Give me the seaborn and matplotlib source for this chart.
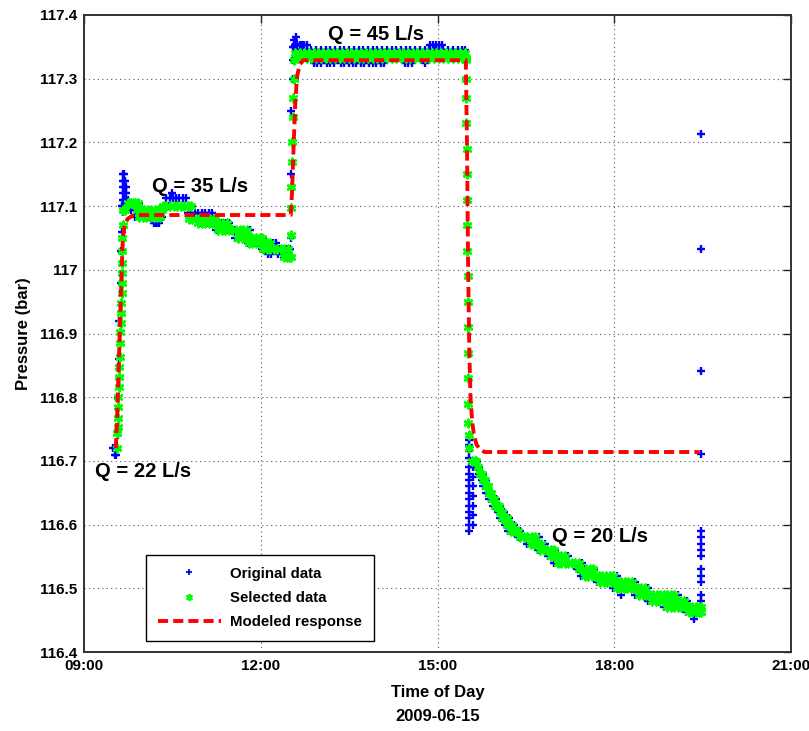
import numpy as np
import pandas as pd
import matplotlib
matplotlib.use("Agg")
import matplotlib.pyplot as plt
import seaborn as sns
from matplotlib.lines import Line2D

# ---------------- data (time in decimal hours, pressure in bar) ----------------
x_ticks = [9, 12, 15, 18, 21]
x_tick_labels = ["09:00", "12:00", "15:00", "18:00", "21:00"]
y_ticks = [116.4, 116.5, 116.6, 116.7, 116.8, 116.9, 117.0, 117.1, 117.2, 117.3, 117.4]
y_tick_labels = ["116.4", "116.5", "116.6", "116.7", "116.8", "116.9", "117", "117.1", "117.2", "117.3", "117.4"]

flow_labels = ["Q = 22 L/s", "Q = 35 L/s", "Q = 45 L/s", "Q = 20 L/s"]
flow_label_time = [9.19, 10.15, 13.14, 16.94]
flow_label_pres = [116.683, 117.131, 117.369, 116.582]

# original data: runs at constant pressure (pressure, times)
orig_rows = [
    (116.72, [9.50, 9.53, 9.56]),
    (116.71, [9.52, 9.55]),
    (117.105, [9.74, 9.79, 9.84, 9.89, 9.93]),
    (117.094, [9.80, 9.86, 9.92, 9.98, 10.04, 10.10, 10.16, 10.22, 10.28, 10.34]),
    (117.083, [9.86, 9.94, 10.02, 10.10, 10.18, 10.26, 10.32]),
    (117.073, [10.18, 10.21, 10.24, 10.27]),
    (117.113, [10.40, 10.46, 10.51, 10.56, 10.62, 10.68, 10.74]),
    (117.12, [10.50]),
    (117.10, [10.36, 10.42, 10.48, 10.54, 10.60, 10.66, 10.72, 10.78, 10.84]),
    (117.089, [10.76, 10.82, 10.88, 10.94, 11.00, 11.06, 11.12, 11.18]),
    (117.08, [10.88, 10.94, 11.00, 11.06, 11.12, 11.18, 11.24]),
    (117.073, [10.98, 11.04, 11.10, 11.16, 11.22, 11.28, 11.34, 11.40, 11.46]),
    (117.062, [11.24, 11.30, 11.36, 11.42, 11.48, 11.54, 11.60, 11.66, 11.72, 11.78, 11.82]),
    (117.05, [11.56, 11.62, 11.68, 11.74, 11.80, 11.86, 11.92, 11.98, 12.04]),
    (117.042, [11.78, 11.84, 11.90, 11.96, 12.02, 12.08, 12.14, 12.20, 12.26]),
    (117.033, [12.02, 12.08, 12.14, 12.20, 12.26, 12.32, 12.38, 12.44, 12.49]),
    (117.025, [12.12, 12.18, 12.30, 12.36, 12.42]),
    (117.02, [12.40, 12.44, 12.48]),
    (117.353, [12.58, 12.62, 12.66, 12.70, 12.74, 12.78, 14.87, 14.92, 14.97, 15.02, 15.07]),
    (117.345, [12.62, 12.70, 12.78, 12.86, 12.94, 13.02, 13.10, 13.18, 13.26, 13.34, 13.42,
               13.50, 13.58, 13.66, 13.74, 13.82, 13.90, 13.98, 14.06, 14.14, 14.22, 14.30,
               14.38, 14.46, 14.54, 14.62, 14.70, 14.78, 14.86, 14.94, 15.02, 15.10, 15.18,
               15.26, 15.34, 15.42, 15.47]),
    (117.335, [12.66, 12.74, 12.82, 12.90, 12.98, 13.06, 13.14, 13.22, 13.30, 13.38, 13.46,
               13.54, 13.62, 13.70, 13.78, 13.86, 13.94, 14.02, 14.10, 14.18, 14.26, 14.34,
               14.42, 14.50, 14.58, 14.66, 14.74, 14.82, 14.90, 14.98, 15.06, 15.14, 15.22,
               15.30, 15.38, 15.46]),
    (117.325, [12.90, 12.96, 13.02, 13.12, 13.18, 13.24, 13.36, 13.42, 13.50, 13.56, 13.62,
               13.70, 13.76, 13.84, 13.90, 13.96, 14.04, 14.10, 14.44, 14.50, 14.56, 14.78]),
    (116.70, [15.64, 15.67]),
    (116.69, [15.67, 15.70]),
    (116.68, [15.70, 15.74, 15.78]),
    (116.67, [15.75, 15.79, 15.83]),
    (116.66, [15.78, 15.82, 15.86]),
    (116.65, [15.83, 15.87, 15.91]),
    (116.64, [15.88, 15.92, 15.96, 15.99]),
    (116.63, [15.94, 15.98, 16.02, 16.06]),
    (116.62, [16.02, 16.06, 16.10, 16.13]),
    (116.61, [16.06, 16.10, 16.14, 16.18, 16.22]),
    (116.60, [16.14, 16.18, 16.22, 16.26, 16.30]),
    (116.59, [16.20, 16.25, 16.30, 16.35, 16.40]),
    (116.58, [16.36, 16.42, 16.48, 16.54, 16.60, 16.66, 16.72]),
    (116.57, [16.52, 16.58, 16.64, 16.70, 16.76, 16.82]),
    (116.56, [16.70, 16.76, 16.82, 16.88, 16.94, 17.00]),
    (116.55, [16.88, 16.94, 17.00, 17.06, 17.12, 17.18, 17.22]),
    (116.54, [16.98, 17.04, 17.10, 17.16, 17.22, 17.28, 17.34, 17.40, 17.46]),
    (116.53, [17.36, 17.42, 17.48, 17.54, 17.60, 17.66]),
    (116.52, [17.44, 17.50, 17.56, 17.62, 17.68, 17.74, 17.80, 17.86, 17.92, 17.98, 18.04]),
    (116.51, [17.70, 17.76, 17.82, 17.88, 17.94, 18.00, 18.06, 18.12, 18.18, 18.24, 18.30, 18.36]),
    (116.50, [17.98, 18.04, 18.10, 18.16, 18.22, 18.28, 18.34, 18.40, 18.46, 18.52, 18.58]),
    (116.49, [18.12, 18.36, 18.42, 18.48, 18.54, 18.60, 18.66, 18.72, 18.78, 18.84, 18.90,
              18.96, 19.02, 19.08]),
    (116.48, [18.58, 18.64, 18.70, 18.76, 18.82, 18.88, 18.94, 19.00, 19.06, 19.12, 19.18, 19.24]),
    (116.47, [18.84, 18.90, 18.96, 19.02, 19.08, 19.14, 19.20, 19.26, 19.32, 19.38, 19.44, 19.48]),
    (116.463, [19.22, 19.28, 19.34, 19.40, 19.46]),
    (116.452, [19.36]),
]
# original data: columns at (almost) constant time (time, pressures)
orig_cols = [
    (9.58, [116.74, 116.80]),
    (9.60, [116.86, 116.92]),
    (9.62, [116.98, 117.03]),
    (9.64, [117.06, 117.10]),
    (9.655, [117.09, 117.11, 117.13]),
    (9.67, [117.10, 117.12, 117.14, 117.15]),
    (9.685, [117.11, 117.13, 117.14, 117.15]),
    (9.70, [117.11, 117.12, 117.14]),
    (9.72, [117.10, 117.11, 117.12, 117.13]),
    (9.745, [117.10, 117.11]),
    (12.52, [117.05, 117.15, 117.25]),
    (12.55, [117.30, 117.33, 117.35]),
    (12.57, [117.36, 117.35]),
    (12.59, [117.365, 117.355]),
    (15.53, [116.733, 116.725, 116.715, 116.705, 116.69, 116.68, 116.67, 116.66, 116.65,
             116.64, 116.63, 116.62, 116.61, 116.60, 116.59]),
    (15.60, [116.70, 116.69, 116.675, 116.66, 116.645, 116.63, 116.615, 116.60]),
    (19.48, [117.213, 117.033, 116.841, 116.711, 116.59, 116.58, 116.57, 116.56, 116.55,
             116.53, 116.52, 116.51, 116.49, 116.48]),
]

# selected data
sel_rows = [
    (117.094, [9.67, 9.70]),
    (117.105, [9.75, 9.79, 9.83, 9.87, 9.91]),
    (117.094, [9.90, 9.96, 10.02, 10.08, 10.14, 10.20, 10.26, 10.32]),
    (117.083, [9.94, 10.00, 10.06, 10.12, 10.18, 10.24, 10.29]),
    (117.10, [10.34, 10.40, 10.46, 10.52, 10.58, 10.64, 10.70, 10.76, 10.82]),
    (117.08, [10.78, 10.84, 10.90, 10.96, 11.02, 11.08, 11.14, 11.20]),
    (117.073, [10.94, 11.00, 11.06, 11.12, 11.18, 11.24, 11.30, 11.36, 11.42]),
    (117.062, [11.28, 11.34, 11.40, 11.46, 11.52, 11.58, 11.64, 11.70, 11.76]),
    (117.05, [11.62, 11.68, 11.74, 11.80, 11.86, 11.92, 11.98, 12.02]),
    (117.042, [11.80, 11.86, 11.92, 11.98, 12.04, 12.10, 12.16]),
    (117.033, [12.04, 12.10, 12.16, 12.22, 12.28, 12.34, 12.40, 12.46]),
    (117.02, [12.40, 12.44, 12.48]),
    (117.34, [12.58, 12.66, 12.74, 12.82, 12.90, 12.98, 13.06, 13.14, 13.22, 13.30, 13.38,
              13.46, 13.54, 13.62, 13.70, 13.78, 13.86, 13.94, 14.02, 14.10, 14.18, 14.26,
              14.34, 14.42, 14.50, 14.58, 14.66, 14.74, 14.82, 14.90, 14.98, 15.06, 15.14,
              15.22, 15.30, 15.38, 15.46]),
    (117.333, [12.62, 12.70, 12.78, 12.86, 12.94, 13.02, 13.10, 13.18, 13.26, 13.34, 13.42,
               13.50, 13.58, 13.66, 13.74, 13.82, 13.90, 13.98, 14.06, 14.14, 14.22, 14.30,
               14.38, 14.46, 14.54, 14.62, 14.70, 14.78, 14.86, 14.94, 15.02, 15.10, 15.18,
               15.26, 15.34, 15.42, 15.48]),
    (116.70, [15.63, 15.66]),
    (116.69, [15.69]),
    (116.68, [15.72, 15.75]),
    (116.67, [15.78, 15.80]),
    (116.66, [15.82, 15.85]),
    (116.65, [15.87, 15.90]),
    (116.64, [15.93, 15.96]),
    (116.63, [15.98, 16.02, 16.05]),
    (116.62, [16.06, 16.10]),
    (116.61, [16.10, 16.14, 16.18]),
    (116.60, [16.18, 16.22, 16.26]),
    (116.59, [16.24, 16.28, 16.32, 16.36]),
    (116.58, [16.40, 16.46, 16.52, 16.60, 16.66]),
    (116.57, [16.58, 16.64, 16.70, 16.76]),
    (116.56, [16.74, 16.80, 16.86, 16.92, 16.98]),
    (116.55, [16.92, 16.98, 17.04, 17.10, 17.16]),
    (116.54, [17.04, 17.10, 17.16, 17.22, 17.28, 17.34, 17.40]),
    (116.53, [17.40, 17.46, 17.52, 17.58, 17.64]),
    (116.52, [17.50, 17.56, 17.62, 17.68, 17.74, 17.80, 17.86, 17.92, 17.98]),
    (116.51, [17.76, 17.82, 17.88, 17.94, 18.00, 18.06, 18.12, 18.18, 18.24, 18.30]),
    (116.50, [18.04, 18.10, 18.16, 18.22, 18.28, 18.34, 18.40, 18.46, 18.52]),
    (116.49, [18.42, 18.48, 18.54, 18.60, 18.66, 18.72, 18.78, 18.84, 18.90, 18.96, 19.02]),
    (116.48, [18.64, 18.70, 18.76, 18.82, 18.88, 18.94, 19.00, 19.06, 19.12, 19.18]),
    (116.47, [18.90, 18.96, 19.02, 19.08, 19.14, 19.20, 19.26, 19.32, 19.38, 19.44, 19.48]),
    (116.463, [19.26, 19.32, 19.38, 19.44, 19.48]),
]
sel_cols = [
    (9.56, [116.72, 116.744]),
    (9.57, [116.753, 116.767]),
    (9.585, [116.785, 116.80]),
    (9.60, [116.816, 116.832, 116.847]),
    (9.615, [116.863, 116.885, 116.902]),
    (9.63, [116.916, 116.932, 116.948]),
    (9.64, [116.964, 116.979, 116.995]),
    (9.65, [117.011, 117.03, 117.05]),
    (9.66, [117.07]),
    (12.51, [117.02, 117.054]),
    (12.52, [117.097, 117.13]),
    (12.53, [117.17, 117.20]),
    (12.55, [117.24, 117.27]),
    (12.57, [117.30, 117.33]),
    (15.49, [117.33, 117.30, 117.27, 117.23]),
    (15.50, [117.19, 117.15, 117.11, 117.07, 117.03]),
    (15.51, [116.99, 116.95, 116.91, 116.87]),
    (15.52, [116.83, 116.79, 116.76]),
    (15.54, [116.74, 116.72]),
    (15.58, [116.70]),
]

# modeled response
model_time = [9.54, 9.56, 9.58, 9.60, 9.62, 9.64, 9.66, 9.69, 9.74, 9.82, 9.95,
              12.51, 12.53, 12.56, 12.59, 12.62, 12.66, 12.72,
              15.48, 15.50, 15.52, 15.54, 15.56, 15.59, 15.62, 15.66, 15.72, 15.80, 19.45]
model_pres = [116.72, 116.76, 116.82, 116.88, 116.94, 117.00, 117.05, 117.07, 117.08, 117.085, 117.086,
              117.086, 117.12, 117.20, 117.27, 117.305, 117.322, 117.329,
              117.329, 117.20, 117.00, 116.87, 116.80, 116.76, 116.74, 116.726, 116.718, 116.714, 116.714]


def build(rows, cols):
    t, p = [], []
    for val, times in rows:
        t += list(times)
        p += [val] * len(times)
    for tt, vals in cols:
        t += [tt] * len(vals)
        p += list(vals)
    return pd.DataFrame({"time": t, "pressure": p})


orig_df = build(orig_rows, orig_cols)
sel_df = build(sel_rows, sel_cols)
model_df = pd.DataFrame({"time": model_time, "pressure": model_pres})

# ---------------- plotting ----------------
sns.set_style("white")
plt.rcParams["font.family"] = ["Liberation Sans", "DejaVu Sans"]
plt.rcParams["font.weight"] = "bold"
plt.rcParams["text.color"] = "black"
plt.rcParams["axes.labelcolor"] = "black"
plt.rcParams["xtick.color"] = "black"
plt.rcParams["ytick.color"] = "black"

fig = plt.figure(figsize=(8.09, 7.31), dpi=100)
ax = fig.add_axes([0.1038, 0.108, 0.8740, 0.8715])

blue = (0, 0, 1)
green = (0, 1, 0)
red = (1, 0, 0)

sns.scatterplot(data=orig_df, x="time", y="pressure", ax=ax, marker="+", s=34,
                color=blue, linewidth=1.7, zorder=3, legend=False)
sns.scatterplot(data=sel_df, x="time", y="pressure", ax=ax, marker=(6, 2, 0), s=30,
                color=green, linewidth=1.8, zorder=4, legend=False)
sns.lineplot(data=model_df, x="time", y="pressure", ax=ax, color=red, linewidth=2.8,
             zorder=5, legend=False, sort=False)
ax.lines[-1].set_dashes((2.6, 1.3))

for lab, tx, py in zip(flow_labels, flow_label_time, flow_label_pres):
    ax.text(tx, py, lab, fontsize=14.5, fontweight="bold", color="black",
            ha="left", va="center", zorder=6)

ax.set_xlim(9, 21)
ax.set_ylim(116.4, 117.4)
ax.set_xticks(x_ticks)
ax.set_xticklabels(x_tick_labels)
ax.set_yticks(y_ticks)
ax.set_yticklabels(y_tick_labels)
ax.tick_params(direction="in", length=6, width=1, top=True, right=True,
               labelsize=11, colors="#222222", labelcolor="black", pad=5)
for lbl in ax.get_xticklabels() + ax.get_yticklabels():
    lbl.set_fontweight("bold")

ax.grid(True, linestyle=(0, (1, 3)), color="#555555", linewidth=0.8)
for sp in ax.spines.values():
    sp.set_visible(True)
    sp.set_color("#333333")
    sp.set_linewidth(1.4)

ax.set_xlabel("Time of Day\n2009-06-15", fontsize=12, fontweight="bold", linespacing=1.75,
              labelpad=9, color="black")
ax.set_ylabel("Pressure (bar)", fontsize=12, fontweight="bold", labelpad=6, color="black")

handles = [
    Line2D([], [], linestyle="none", marker="+", color=blue, markersize=5, markeredgewidth=1.3),
    Line2D([], [], linestyle="none", marker=(6, 2, 0), color=green, markersize=5, markeredgewidth=1.3),
    Line2D([], [], color=red, linewidth=2.8, dashes=(2.6, 1.3)),
]
leg = ax.legend(handles, ["Original data", "Selected data", "Modeled response"],
                loc="lower left", bbox_to_anchor=(0.0877, 0.0173), borderaxespad=0,
                fancybox=False, framealpha=1, edgecolor="black", handlelength=4.2,
                handletextpad=0.6, labelspacing=0.68, borderpad=0.8, numpoints=1,
                prop={"size": 10.8, "weight": "bold"})
leg.get_frame().set_linewidth(1.0)
leg.set_zorder(10)
for t in leg.get_texts():
    t.set_color("black")

fig.savefig("out.png", dpi=100)
